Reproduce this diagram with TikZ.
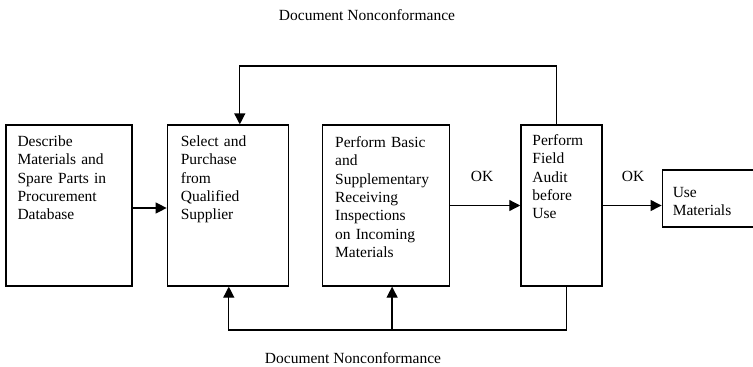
\documentclass[tikz,border=0pt]{standalone}
\usepackage{fontspec}
\setmainfont{Liberation Serif}
\usetikzlibrary{arrows.meta, positioning}

\begin{document}
\begin{tikzpicture}[x=1pt, y=-1pt, >={Triangle[length=11pt, width=11pt]},
    box/.style={draw, rectangle, line width=1.3pt, minimum height=161pt, inner sep=0pt},
    txt/.style={anchor=base west, align=left, text width=125pt, inner sep=0pt, font=\fontsize{15.5}{18.4}\selectfont},
    lbl/.style={font=\fontsize{15.5}{18}\selectfont},
    arr/.style={->, line width=1.3pt}]
    \useasboundingbox (0,0) rectangle (753,367);

    \node[box, minimum width=126pt] (describe) at (69,205.5) {};
    \node[box, minimum width=121pt, right=34pt of describe] (select) {};
    \node[box, minimum width=127pt, right=33pt of select] (perform) {};
    \node[box, minimum width=81pt, right=70pt of perform] (audit) {};
    \node[box, minimum width=92pt, minimum height=57pt, right=59pt of audit, yshift=7pt] (use) {};

    % box texts
    \node[txt] (describe-t) at ([shift={(12,22)}]describe.north west) {Describe\\Materials and\\Spare Parts in\\Procurement\\Database};
    \node[txt] (select-t) at ([shift={(14,22)}]select.north west) {Select and\\Purchase\\from\\Qualified\\Supplier};
    \node[txt] (perform-t) at ([shift={(13,23)}]perform.north west) {Perform Basic\\and\\Supplementary\\Receiving\\Inspections\\on Incoming\\Materials};
    \node[txt] (audit-t) at ([shift={(12,21)}]audit.north west) {Perform\\Field\\Audit\\before\\Use};
    \node[txt] (use-t) at ([shift={(11,28)}]use.north west) {Use\\Materials};

    \node[lbl] (ok1) at (482,176) {OK};
    \node[lbl] (ok2) at (633,176) {OK};
    \node[lbl] (nc-top) at (367,15) {Document Nonconformance};
    \node[lbl] (nc-bot) at (353,358) {Document Nonconformance};

    \coordinate (topline) at (0,66);
    \coordinate (botline) at (0,330);

    \draw[arr] (describe.east |- 0,208) -- (select.west |- 0,208);
    \draw[arr] (perform) -- (audit);
    \draw[arr] (audit.east) -- (audit.east -| use.west);

    \draw[arr] ([xshift=-5pt]audit.north) -- ([xshift=-5pt]audit.north |- topline) -| ([xshift=12pt]select.north);
    \draw[arr] ([xshift=5pt]audit.south) -- ([xshift=5pt]audit.south |- botline) -| ([xshift=1pt]select.south);
    \draw[arr] ([xshift=6pt]perform.south |- botline) -- ([xshift=6pt]perform.south);
\end{tikzpicture}
\end{document}
